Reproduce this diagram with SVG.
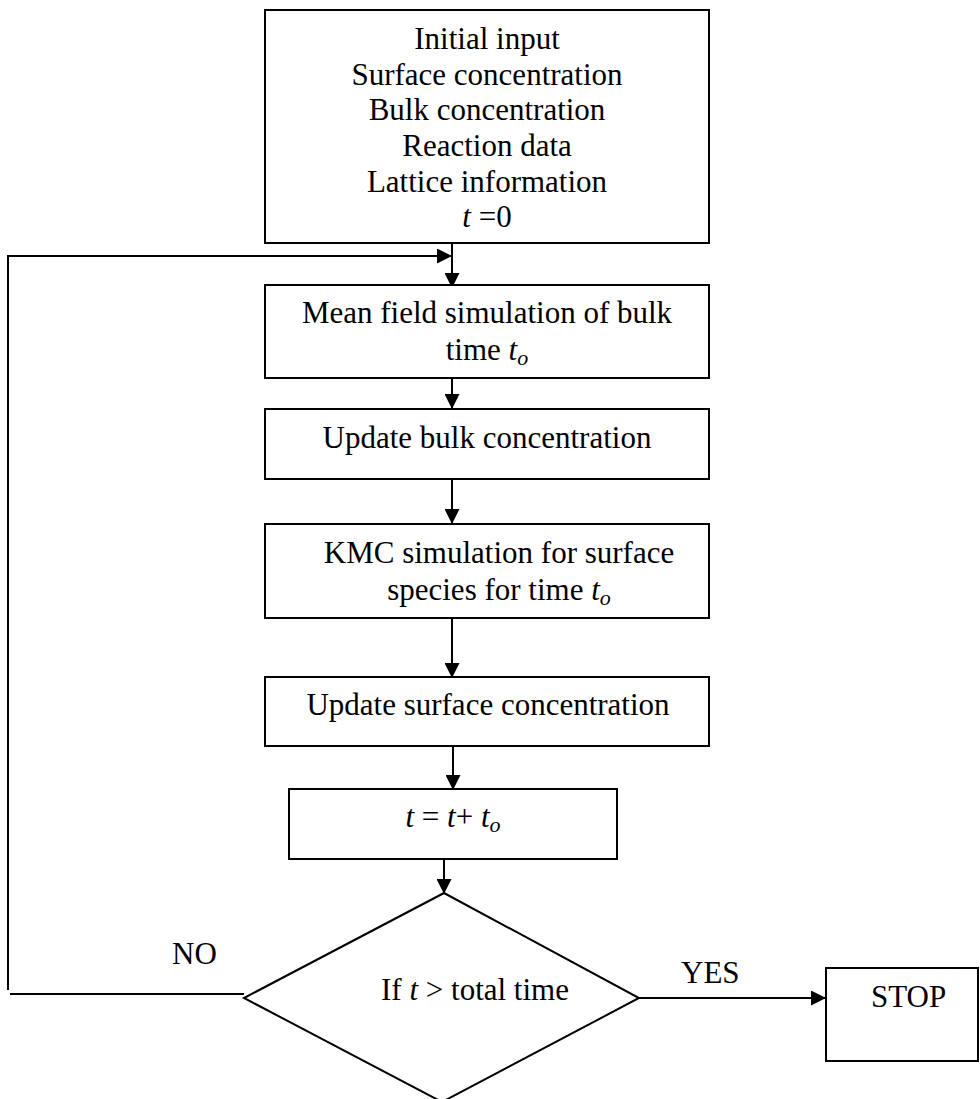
<svg xmlns="http://www.w3.org/2000/svg" width="980" height="1099" viewBox="0 0 980 1099">
<style>
.box{fill:#fff;stroke:#000;stroke-width:2}
.ln{fill:none;stroke:#000;stroke-width:2}
text{font-family:"Liberation Serif","Times New Roman",serif;font-size:31px;fill:#000}
.c{text-anchor:middle}
.i{font-style:italic}
.sub{font-style:italic;font-size:22px}
</style>
<defs>
<marker id="ah" markerUnits="userSpaceOnUse" markerWidth="15" markerHeight="15" refX="15" refY="7.5" orient="auto">
<path d="M0,0 L15,7.5 L0,15 z" fill="#000"/>
</marker>
</defs>
<g id="connectors">
<line class="ln" x1="452" y1="243" x2="452" y2="288" marker-end="url(#ah)"/>
<polyline class="ln" points="8,990 8,256 452,256" marker-end="url(#ah)"/>
<line class="ln" x1="452" y1="378" x2="452" y2="409" marker-end="url(#ah)"/>
<line class="ln" x1="452" y1="479" x2="452" y2="524" marker-end="url(#ah)"/>
<line class="ln" x1="452" y1="618" x2="452" y2="678" marker-end="url(#ah)"/>
<line class="ln" x1="453" y1="746" x2="453" y2="790" marker-end="url(#ah)"/>
<line class="ln" x1="444" y1="850" x2="444" y2="894" marker-end="url(#ah)"/>
<line class="ln" x1="639" y1="998" x2="826" y2="998" marker-end="url(#ah)"/>
<line class="ln" x1="10" y1="994" x2="244" y2="994"/>
</g>
<g id="init">
<rect class="box" x="265" y="10" width="444" height="233"/>
<text class="c" x="487" y="49">Initial input</text>
<text class="c" x="487" y="85">Surface concentration</text>
<text class="c" x="487" y="120">Bulk concentration</text>
<text class="c" x="487" y="156">Reaction data</text>
<text class="c" x="487" y="192">Lattice information</text>
<text class="c" x="487" y="227"><tspan class="i">t</tspan> =0</text>
</g>
<g id="meanfield">
<rect class="box" x="265" y="285" width="444" height="93"/>
<text class="c" x="487" y="323">Mean field simulation of bulk</text>
<text class="c" x="487" y="360">time <tspan class="i">t</tspan><tspan class="sub" dy="5">o</tspan></text>
</g>
<g id="updbulk">
<rect class="box" x="265" y="409" width="444" height="70"/>
<text class="c" x="487" y="448">Update bulk concentration</text>
</g>
<g id="kmc">
<rect class="box" x="265" y="524" width="444" height="94"/>
<text class="c" x="499" y="563">KMC simulation for surface</text>
<text class="c" x="499" y="600">species for time <tspan class="i">t</tspan><tspan class="sub" dy="5">o</tspan></text>
</g>
<g id="updsurf">
<rect class="box" x="265" y="677" width="444" height="69"/>
<text class="c" x="488" y="715">Update surface concentration</text>
</g>
<g id="tupdate">
<rect class="box" x="289" y="789" width="328" height="70"/>
<text class="c" x="453" y="827"><tspan class="i">t</tspan> = <tspan class="i">t</tspan>+ <tspan class="i">t</tspan><tspan class="sub" dy="5">o</tspan></text>
</g>
<g id="decision">
<polygon class="box" points="444,893 639,998 442,1102 244,998"/>
<text x="381" y="1000">If <tspan class="i">t</tspan> &gt; total time</text>
</g>
<g id="labels">
<text x="172" y="964">NO</text>
<text x="681" y="983">YES</text>
</g>
<g id="stop">
<rect class="box" x="826" y="968" width="152" height="93"/>
<text x="871" y="1007">STOP</text>
</g>
</svg>
